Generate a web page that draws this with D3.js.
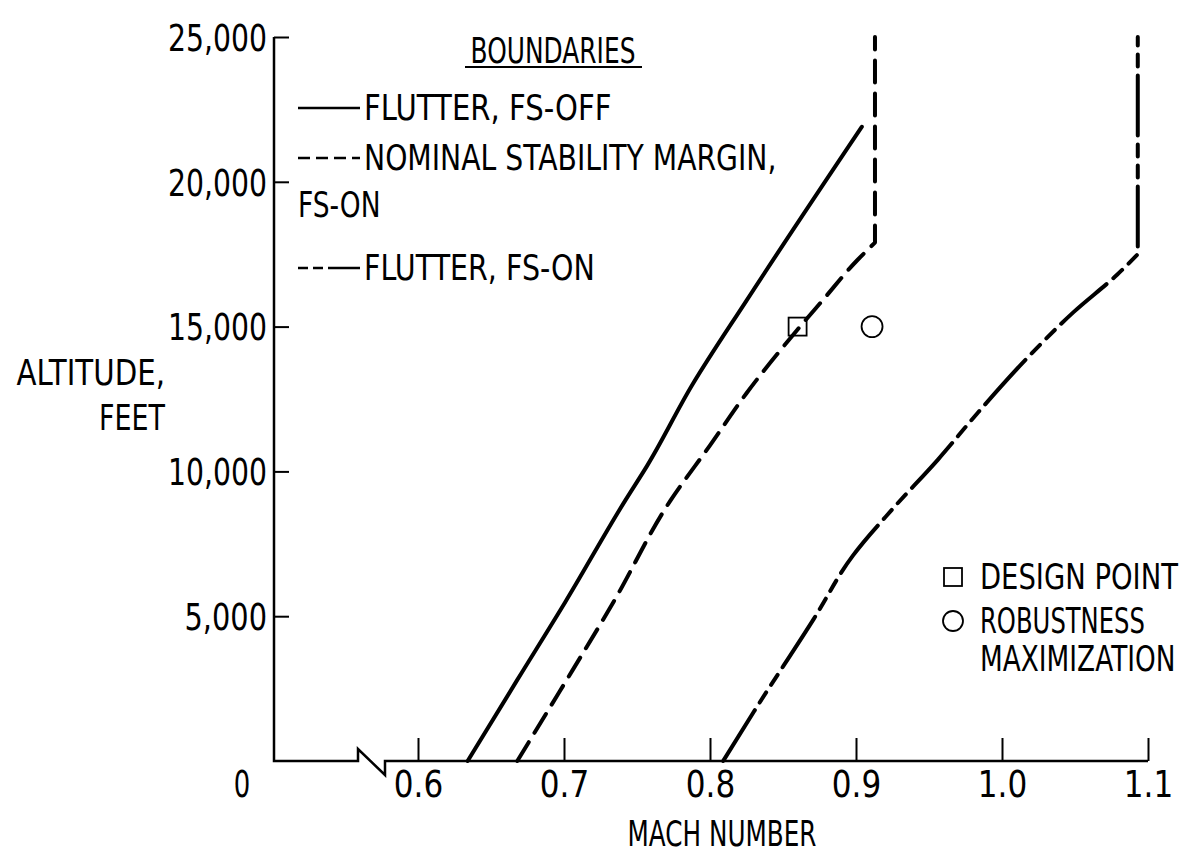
<!DOCTYPE html>
<html>
<head>
<meta charset="utf-8">
<script src="https://cdn.jsdelivr.net/npm/d3@7"></script>
<style>
  body { margin: 0; background: #fff; }
  text { font-family: "DejaVu Sans", sans-serif; fill: #000; }
</style>
</head>
<body>
<div id="chart"></div>
<script>
// tick values
var machTicks = [0.6, 0.7, 0.8, 0.9, 1.0, 1.1];
var altTicks = [5000, 10000, 15000, 20000, 25000];

// flutter boundary, flutter suppression off (solid)
var flutterOffMach = [0.634, 0.668, 0.701, 0.742, 0.757, 0.788, 0.825, 0.904];
var flutterOffAlt  = [0, 2800, 5500, 9000, 10200, 13000, 15900, 21900];

// nominal stability margin, FS on (dashed)
var nominalMach = [0.668, 0.697, 0.734, 0.773, 0.800, 0.825, 0.860, 0.877, 0.901, 0.913, 0.913];
var nominalAlt  = [0, 2400, 5500, 9000, 10900, 12700, 14900, 15900, 17300, 17900, 25000];

// flutter boundary, FS on (dash-dot)
var flutterOnMach = [0.809, 0.830, 0.871, 0.898, 0.925, 0.956, 0.983, 1.017, 1.049, 1.079, 1.093, 1.093];
var flutterOnAlt  = [0, 1700, 4900, 7100, 8700, 10400, 12000, 13900, 15500, 16800, 17500, 25000];

// design point and robustness maximization point
var designMach = [0.86];
var designAlt = [15000];
var robustMach = [0.911];
var robustAlt = [15000];

var width = 1188, height = 857;
var cw = 16.5; // char width of the lettering

var svg = d3.select("#chart").append("svg")
    .attr("width", width)
    .attr("height", height);

var x = d3.scaleLinear().domain([0.6, 1.1]).range([418, 1148]);
var y = d3.scaleLinear().domain([0, 25000]).range([761, 37]);
var x0 = 274; // y axis position (left of axis break)

// squeeze a text horizontally so each char takes cw pixels
function squeeze(t, tx, ty, w) {
  var n = t.textContent.length;
  var k = (w || n * cw) / t.getComputedTextLength();
  d3.select(t).attr("x", 0).attr("y", 0)
    .attr("transform", `translate(${tx},${ty}) scale(${k},1)`);
}

function label(px, py, str, size, anchor, w) {
  var t = svg.append("text")
      .attr("font-size", size)
      .attr("text-anchor", anchor || "start")
      .text(str);
  squeeze(t.node(), px, py, w);
  return t;
}

// broken axes frame
svg.append("path")
    .attr("d", `M${x0},${y(25000)} V${y(0)} H358 V${y(0) - 12} L385,${y(0) + 14} V${y(0)} H${x(1.1)}`)
    .attr("fill", "none")
    .attr("stroke", "#000")
    .attr("stroke-width", 2.5);

// x axis ticks
var xAxis = d3.axisBottom(x)
    .tickValues(machTicks)
    .tickSize(-23)
    .tickFormat(d3.format(".1f"));
var gx = svg.append("g")
    .attr("transform", `translate(0, ${y(0)})`)
    .call(xAxis);
gx.select(".domain").remove();
gx.selectAll("line").attr("stroke-width", 2);
gx.selectAll("text")
    .attr("font-size", 37)
    .attr("dy", 0)
    .each(function() { squeeze(this, 0, 36); });

// y axis ticks
var yAxis = d3.axisLeft(y)
    .tickValues(altTicks)
    .tickSize(-15)
    .tickFormat(d3.format(","));
var gy = svg.append("g")
    .attr("transform", `translate(${x0}, 0)`)
    .call(yAxis);
gy.select(".domain").remove();
gy.selectAll("line").attr("stroke-width", 2);
gy.selectAll("text")
    .attr("font-size", 37)
    .attr("dy", "0.36em")
    .each(function() { squeeze(this, -7, 0); });

// zero of altitude sits under the corner
label(242, 797, "0", 37, "middle");

// axis titles
label(165, 385, "ALTITUDE,", 36, "end");
label(165, 430, "FEET", 36, "end");
label(722, 846, "MACH NUMBER", 35, "middle", 189);

// boundary curves: smooth part, then a straight vertical run to the top
function curvePath(ms, as) {
  var pts = ms.map((m, i) => [m, as[i]]);
  var tail = null;
  if (ms[ms.length - 1] === ms[ms.length - 2]) tail = pts.pop();
  var d = d3.line().curve(d3.curveMonotoneY)
      .x(p => x(p[0])).y(p => y(p[1]))(pts);
  if (tail) d += `L${x(tail[0])},${y(tail[1])}`;
  return d;
}

var series = [
  { d: curvePath(flutterOffMach, flutterOffAlt), dash: null },
  { d: curvePath(nominalMach, nominalAlt), dash: "22,11" },
  { d: curvePath(flutterOnMach, flutterOnAlt), dash: "60,9,12,9,12,9" }
];

svg.selectAll("path.curve")
    .data(series)
    .enter()
    .append("path")
    .attr("class", "curve")
    .attr("d", d => d.d)
    .attr("fill", "none")
    .attr("stroke", "#000")
    .attr("stroke-width", 4)
    .attr("stroke-linecap", "round")
    .attr("stroke-linejoin", "round")
    .attr("stroke-dasharray", d => d.dash);

// markers
svg.selectAll("rect.design")
    .data(designMach)
    .enter()
    .append("rect")
    .attr("class", "design")
    .attr("x", d => x(d) - 9)
    .attr("y", (d, i) => y(designAlt[i]) - 9)
    .attr("width", 18).attr("height", 18)
    .attr("fill", "none").attr("stroke", "#000").attr("stroke-width", 1.8);

svg.selectAll("circle.robust")
    .data(robustMach)
    .enter()
    .append("circle")
    .attr("class", "robust")
    .attr("cx", d => x(d))
    .attr("cy", (d, i) => y(robustAlt[i]))
    .attr("r", 10.5)
    .attr("fill", "none").attr("stroke", "#000").attr("stroke-width", 1.8);

// boundaries legend
label(553, 63, "BOUNDARIES", 35, "middle");
svg.append("line").attr("x1", 465).attr("x2", 642).attr("y1", 67).attr("y2", 67)
    .attr("stroke", "#000").attr("stroke-width", 2);

var legendRows = [
  { y: 108, dash: null, label: "FLUTTER, FS-OFF" },
  { y: 158, dash: "12,6", label: "NOMINAL STABILITY MARGIN," },
  { y: 268, dash: "10,5,10,5,40", label: "FLUTTER, FS-ON" }
];
legendRows.forEach(function(r) {
  svg.append("line")
      .attr("x1", 298).attr("x2", 360).attr("y1", r.y).attr("y2", r.y)
      .attr("stroke", "#000").attr("stroke-width", 2.5)
      .attr("stroke-dasharray", r.dash);
  label(364, r.y + 12, r.label, 35);
});
label(298, 217, "FS-ON", 35);

// point legend
svg.append("rect").attr("x", 944).attr("y", 568).attr("width", 18).attr("height", 18)
    .attr("fill", "none").attr("stroke", "#000").attr("stroke-width", 1.8);
label(980, 589, "DESIGN POINT", 35);
svg.append("circle").attr("cx", 953).attr("cy", 621).attr("r", 10)
    .attr("fill", "none").attr("stroke", "#000").attr("stroke-width", 1.8);
label(980, 633, "ROBUSTNESS", 35);
label(980, 671, "MAXIMIZATION", 35, "start", 12 * 16.3);
</script>
</body>
</html>
